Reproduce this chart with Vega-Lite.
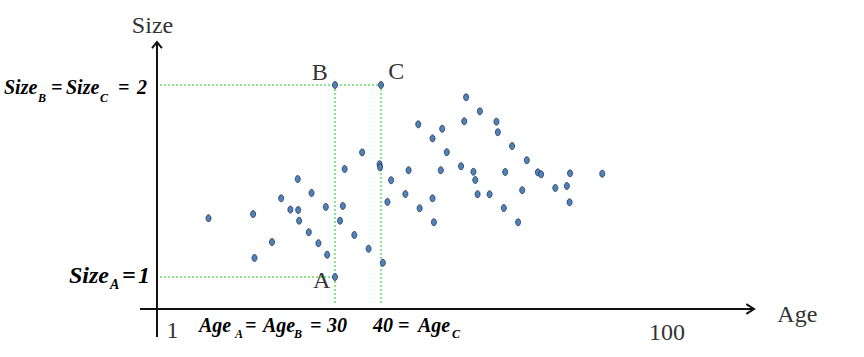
{
  "$schema": "https://vega.github.io/schema/vega-lite/v6.json",
  "width": 864,
  "height": 357,
  "autosize": {"type": "none"},
  "padding": 0,
  "background": "white",
  "config": {"view": {"stroke": null}},
  "datasets": {
    "guides": [
      {"age": -8.04, "age2": 40, "size": 2, "size2": 2},
      {"age": -8.04, "age2": 30, "size": 1, "size2": 1},
      {"age": 30, "age2": 30, "size": 2, "size2": 0.854},
      {"age": 40, "age2": 40, "size": 2, "size2": 0.854}
    ],
    "axes": [
      {"age": -12.39, "age2": 121.09, "size": 0.8333, "size2": 0.8333},
      {"age": -8.7, "age2": -8.7, "size": 0.6875, "size2": 2.224}
    ],
    "arrowUp": [{"age": -8.7, "size": 2.224}],
    "arrowRight": [{"age": 121.09, "size": 0.8333}],
    "points": [
      {"age": 2.5, "size": 1.306}, {"age": 12.2, "size": 1.328}, {"age": 12.5, "size": 1.099},
      {"age": 16.3, "size": 1.182}, {"age": 18.3, "size": 1.41}, {"age": 20.3, "size": 1.351},
      {"age": 21.9, "size": 1.51}, {"age": 22.0, "size": 1.349}, {"age": 22.2, "size": 1.293},
      {"age": 24.9, "size": 1.4375}, {"age": 24.3, "size": 1.233}, {"age": 26.4, "size": 1.176},
      {"age": 28.0, "size": 1.365}, {"age": 28.3, "size": 1.116}, {"age": 30, "size": 1.0},
      {"age": 32.1, "size": 1.5625}, {"age": 31.7, "size": 1.37}, {"age": 31.1, "size": 1.293},
      {"age": 34.2, "size": 1.219}, {"age": 35.9, "size": 1.649}, {"age": 37.3, "size": 1.147},
      {"age": 39.7, "size": 1.587}, {"age": 39.8, "size": 1.571}, {"age": 40.4, "size": 1.074},
      {"age": 41.4, "size": 1.391}, {"age": 42.2, "size": 1.504}, {"age": 45.3, "size": 1.432},
      {"age": 46.0, "size": 1.556}, {"age": 48.4, "size": 1.358}, {"age": 51.2, "size": 1.41},
      {"age": 51.5, "size": 1.285}, {"age": 51.2, "size": 1.722}, {"age": 53.0, "size": 1.556},
      {"age": 54.3, "size": 1.65}, {"age": 53.3, "size": 1.772}, {"age": 48.1, "size": 1.795},
      {"age": 58.5, "size": 1.936}, {"age": 61.5, "size": 1.863}, {"age": 58.1, "size": 1.811},
      {"age": 65.1, "size": 1.809}, {"age": 65.4, "size": 1.754}, {"age": 68.5, "size": 1.682},
      {"age": 71.7, "size": 1.608}, {"age": 57.4, "size": 1.577}, {"age": 60.1, "size": 1.548},
      {"age": 60.5, "size": 1.505}, {"age": 67.0, "size": 1.547}, {"age": 74.1, "size": 1.545},
      {"age": 74.8, "size": 1.535}, {"age": 81.1, "size": 1.54}, {"age": 88.1, "size": 1.538},
      {"age": 61.0, "size": 1.431}, {"age": 63.6, "size": 1.431}, {"age": 70.7, "size": 1.452},
      {"age": 66.7, "size": 1.359}, {"age": 69.8, "size": 1.285}, {"age": 77.9, "size": 1.464},
      {"age": 80.4, "size": 1.474}, {"age": 81.0, "size": 1.389},
      {"age": 30, "size": 2.0}, {"age": 40, "size": 2.0}
    ],
    "boldMain": [
      {"label": "Size", "age": -41.96, "size": 1.953},
      {"label": "=", "age": -31.74, "size": 1.953},
      {"label": "Size", "age": -28.48, "size": 1.953},
      {"label": "=", "age": -17.17, "size": 1.953},
      {"label": "2", "age": -13.04, "size": 1.953},
      {"label": "Age", "age": 0.43, "size": 0.7135},
      {"label": "=", "age": 10.43, "size": 0.7135},
      {"label": "Age", "age": 14.35, "size": 0.7135},
      {"label": "=", "age": 24.57, "size": 0.7135},
      {"label": "30", "age": 28.26, "size": 0.7135},
      {"label": "40", "age": 38.26, "size": 0.7135},
      {"label": "=", "age": 43.7, "size": 0.7135},
      {"label": "Age", "age": 48.04, "size": 0.7135}
    ],
    "boldSub": [
      {"label": "B", "age": -34.57, "size": 1.911},
      {"label": "C", "age": -21.09, "size": 1.911},
      {"label": "A", "age": 8.26, "size": 0.682},
      {"label": "B", "age": 21.09, "size": 0.682},
      {"label": "C", "age": 55.43, "size": 0.682}
    ],
    "boldBig": [
      {"label": "Size", "age": -27.83, "size": 0.97},
      {"label": "=", "age": -16.3, "size": 0.97},
      {"label": "1", "age": -12.83, "size": 0.97}
    ],
    "boldBigSub": [
      {"label": "A", "age": -18.91, "size": 0.936}
    ],
    "plainLabels": [
      {"label": "Size", "age": -9.67, "size": 2.271},
      {"label": "Age", "age": 130.5, "size": 0.766},
      {"label": "A", "age": 27.1, "size": 0.943},
      {"label": "B", "age": 26.7, "size": 2.026},
      {"label": "C", "age": 43.3, "size": 2.031},
      {"label": "1", "age": -5.33, "size": 0.682},
      {"label": "100", "age": 102.2, "size": 0.672}
    ]
  },
  "layer": [
    {
      "data": {"name": "guides"},
      "mark": {"type": "rule", "color": "#66dd66", "strokeWidth": 1.5, "strokeDash": [2, 2]},
      "encoding": {
        "x": {"field": "age", "type": "quantitative", "scale": {"domain": [-42.826, 145], "nice": false, "zero": false}, "axis": null},
        "x2": {"field": "age2"},
        "y": {"field": "size", "type": "quantitative", "scale": {"domain": [0.58333, 2.44271], "nice": false, "zero": false}, "axis": null},
        "y2": {"field": "size2"}
      }
    },
    {
      "data": {"name": "axes"},
      "mark": {"type": "rule", "color": "#111111", "strokeWidth": 2},
      "encoding": {
        "x": {"field": "age", "type": "quantitative", "axis": null},
        "x2": {"field": "age2"},
        "y": {"field": "size", "type": "quantitative", "axis": null},
        "y2": {"field": "size2"}
      }
    },
    {
      "data": {"name": "arrowUp"},
      "mark": {"type": "point", "shape": "M-0.9,1.1L0,0L0.9,1.1", "size": 121, "filled": false, "stroke": "#111111", "strokeWidth": 2, "opacity": 1},
      "encoding": {
        "x": {"field": "age", "type": "quantitative", "axis": null},
        "y": {"field": "size", "type": "quantitative", "axis": null}
      }
    },
    {
      "data": {"name": "arrowRight"},
      "mark": {"type": "point", "shape": "M-1.4,-0.9L0,0L-1.4,0.9", "size": 121, "filled": false, "stroke": "#111111", "strokeWidth": 2, "opacity": 1},
      "encoding": {
        "x": {"field": "age", "type": "quantitative", "axis": null},
        "y": {"field": "size", "type": "quantitative", "axis": null}
      }
    },
    {
      "data": {"name": "points"},
      "mark": {"type": "point", "shape": "M0,-1A0.72,1,0,1,1,0,1A0.72,1,0,1,1,0,-1Z", "size": 49, "filled": true, "fill": "#4f81bd", "stroke": "#26364d", "strokeWidth": 0.8, "opacity": 1},
      "encoding": {
        "x": {"field": "age", "type": "quantitative", "axis": null},
        "y": {"field": "size", "type": "quantitative", "axis": null}
      }
    },
    {
      "data": {"name": "boldMain"},
      "mark": {"type": "text", "align": "left", "baseline": "alphabetic", "font": "Liberation Serif", "fontStyle": "italic", "fontWeight": "bold", "fontSize": 20, "color": "#000000"},
      "encoding": {
        "x": {"field": "age", "type": "quantitative", "axis": null},
        "y": {"field": "size", "type": "quantitative", "axis": null},
        "text": {"field": "label"}
      }
    },
    {
      "data": {"name": "boldSub"},
      "mark": {"type": "text", "align": "left", "baseline": "alphabetic", "font": "Liberation Serif", "fontStyle": "italic", "fontWeight": "bold", "fontSize": 12, "color": "#000000"},
      "encoding": {
        "x": {"field": "age", "type": "quantitative", "axis": null},
        "y": {"field": "size", "type": "quantitative", "axis": null},
        "text": {"field": "label"}
      }
    },
    {
      "data": {"name": "boldBig"},
      "mark": {"type": "text", "align": "left", "baseline": "alphabetic", "font": "Liberation Serif", "fontStyle": "italic", "fontWeight": "bold", "fontSize": 24, "color": "#000000"},
      "encoding": {
        "x": {"field": "age", "type": "quantitative", "axis": null},
        "y": {"field": "size", "type": "quantitative", "axis": null},
        "text": {"field": "label"}
      }
    },
    {
      "data": {"name": "boldBigSub"},
      "mark": {"type": "text", "align": "left", "baseline": "alphabetic", "font": "Liberation Serif", "fontStyle": "italic", "fontWeight": "bold", "fontSize": 14, "color": "#000000"},
      "encoding": {
        "x": {"field": "age", "type": "quantitative", "axis": null},
        "y": {"field": "size", "type": "quantitative", "axis": null},
        "text": {"field": "label"}
      }
    },
    {
      "data": {"name": "plainLabels"},
      "mark": {"type": "text", "align": "center", "baseline": "alphabetic", "font": "Liberation Serif", "fontSize": 24, "color": "#333333"},
      "encoding": {
        "x": {"field": "age", "type": "quantitative", "axis": null},
        "y": {"field": "size", "type": "quantitative", "axis": null},
        "text": {"field": "label"}
      }
    }
  ]
}
